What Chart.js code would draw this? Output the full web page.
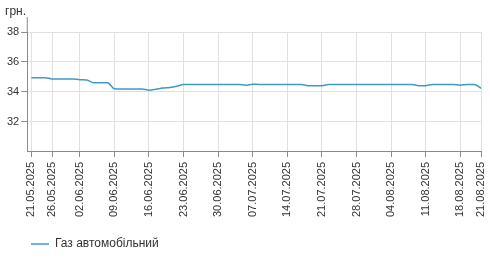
<!DOCTYPE html>
<html>
<head>
<meta charset="utf-8">
<script src="https://cdn.jsdelivr.net/npm/chart.js@4/dist/chart.umd.min.js"></script>
<style>
  html, body { margin: 0; padding: 0; background: #fff; }
  #wrap { width: 490px; height: 262px; }
</style>
</head>
<body>
<div id="wrap"><canvas id="priceChart"></canvas></div>
<script>
// business days only, one gap in the week of 26.05
const dates = [
  '21.05.2025', '22.05.2025', '23.05.2025',
  '26.05.2025', '27.05.2025', '28.05.2025', '29.05.2025',
  '02.06.2025', '03.06.2025', '04.06.2025', '05.06.2025', '06.06.2025',
  '09.06.2025', '10.06.2025', '11.06.2025', '12.06.2025', '13.06.2025',
  '16.06.2025', '17.06.2025', '18.06.2025', '19.06.2025', '20.06.2025',
  '23.06.2025', '24.06.2025', '25.06.2025', '26.06.2025', '27.06.2025',
  '30.06.2025', '01.07.2025', '02.07.2025', '03.07.2025', '04.07.2025',
  '07.07.2025', '08.07.2025', '09.07.2025', '10.07.2025', '11.07.2025',
  '14.07.2025', '15.07.2025', '16.07.2025', '17.07.2025', '18.07.2025',
  '21.07.2025', '22.07.2025', '23.07.2025', '24.07.2025', '25.07.2025',
  '28.07.2025', '29.07.2025', '30.07.2025', '31.07.2025', '01.08.2025',
  '04.08.2025', '05.08.2025', '06.08.2025', '07.08.2025', '08.08.2025',
  '11.08.2025', '12.08.2025', '13.08.2025', '14.08.2025', '15.08.2025',
  '18.08.2025', '19.08.2025', '20.08.2025', '21.08.2025'
];

const gasPrice = [
  34.95, 34.95, 34.95,
  34.87, 34.87, 34.87, 34.87,
  34.82, 34.8, 34.62, 34.62, 34.62,
  34.22, 34.2, 34.2, 34.2, 34.2,
  34.12, 34.18, 34.26, 34.3, 34.38,
  34.5, 34.5, 34.5, 34.5, 34.5,
  34.5, 34.5, 34.5, 34.5, 34.45,
  34.52, 34.5, 34.5, 34.5, 34.5,
  34.5, 34.5, 34.5, 34.42, 34.42,
  34.42, 34.5, 34.5, 34.5, 34.5,
  34.5, 34.5, 34.5, 34.5, 34.5,
  34.5, 34.5, 34.5, 34.5, 34.42,
  34.42, 34.5, 34.5, 34.5, 34.5,
  34.45, 34.5, 34.5, 34.25
];

const shownDates = [
  '21.05.2025', '26.05.2025', '02.06.2025', '09.06.2025', '16.06.2025',
  '23.06.2025', '30.06.2025', '07.07.2025', '14.07.2025', '21.07.2025',
  '28.07.2025', '04.08.2025', '11.08.2025', '18.08.2025', '21.08.2025'
];
const yTicks = [32, 34, 36, 38];

const seriesName = 'Газ автомобільний';
const unitLabel = 'грн.';

const FONT = 'Arial, "Liberation Sans", sans-serif';
const TEXT = '#333';
const AXIS = '#8a8a8a';
const GRID = '#e0e0e0';

// unit label + y axis line sticking out above the plot
const extras = {
  id: 'extras',
  afterLayout(chart) {
    // push legend to the right a bit
    chart.legend.left += 16;
    chart.legend.right += 16;
  },
  afterDraw(chart) {
    const ctx = chart.ctx;
    const x = chart.scales.y.right;
    ctx.save();
    ctx.strokeStyle = AXIS;
    ctx.lineWidth = 1;
    ctx.beginPath();
    ctx.moveTo(x, 17);
    ctx.lineTo(x, chart.chartArea.top);
    ctx.stroke();
    ctx.fillStyle = TEXT;
    ctx.font = '12px ' + FONT;
    ctx.textBaseline = 'alphabetic';
    ctx.fillText(unitLabel, 5, 15);
    ctx.restore();
  }
};

const points = gasPrice.map((v, i) => ({ x: i, y: v }));

new Chart(document.getElementById('priceChart'), {
  type: 'line',
  data: {
    datasets: [{
      label: seriesName,
      data: points,
      borderColor: '#3c9bc9',
      backgroundColor: '#3c9bc9',
      borderWidth: 1.5,
      pointRadius: 0,
      cubicInterpolationMode: 'monotone'
    }]
  },
  options: {
    responsive: true,
    maintainAspectRatio: false,
    animation: false,
    layout: { padding: { left: 5, right: 0, top: 32, bottom: 2 } },
    plugins: {
      tooltip: { enabled: false },
      legend: {
        position: 'bottom',
        align: 'start',
        labels: {
          usePointStyle: true,
          pointStyle: 'line',
          pointStyleWidth: 18,
          boxHeight: 12,
          color: TEXT,
          font: { family: FONT, size: 12 },
          padding: 10
        }
      }
    },
    scales: {
      x: {
        type: 'linear',
        min: -0.6,
        max: dates.length - 1,
        grid: { color: GRID, tickColor: AXIS, tickLength: 5 },
        border: { color: AXIS },
        ticks: {
          autoSkip: false,
          maxRotation: 90,
          minRotation: 90,
          padding: 5,
          color: TEXT,
          font: { family: FONT, size: 11 },
          callback: (v) => dates[v]
        },
        afterBuildTicks(scale) {
          scale.ticks = shownDates.map(d => ({ value: dates.indexOf(d) }));
        },
        afterFit(scale) {
          scale.height += 6;
          scale.paddingRight = 9;
        }
      },
      y: {
        min: 30,
        max: 38,
        grid: { color: GRID, tickColor: AXIS, tickLength: 6 },
        border: { color: AXIS },
        ticks: {
          padding: 2,
          color: TEXT,
          font: { family: FONT, size: 11 }
        },
        afterBuildTicks(scale) {
          scale.ticks = yTicks.map(v => ({ value: v }));
        }
      }
    }
  },
  plugins: [extras]
});
</script>
</body>
</html>
